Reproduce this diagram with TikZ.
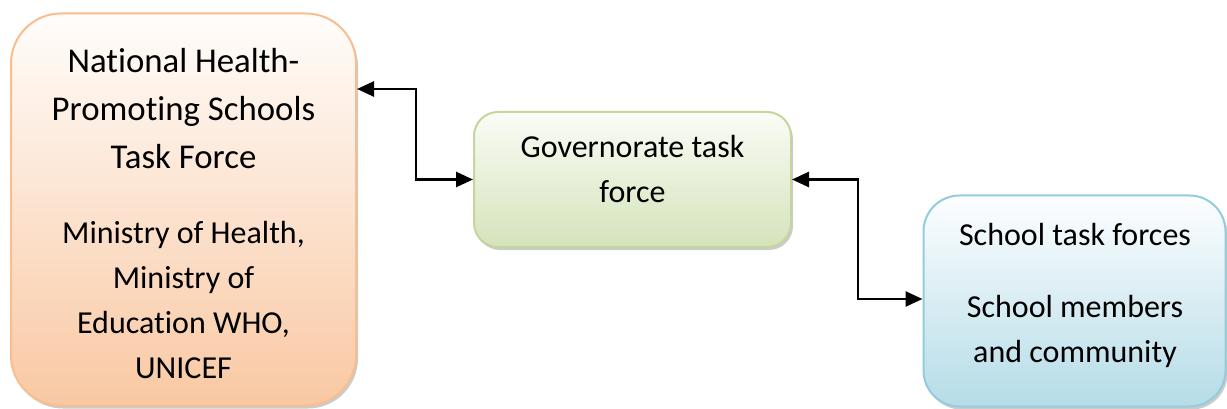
\documentclass[tikz,border=0pt]{standalone}
\usepackage{fontspec}
\setmainfont[Ligatures={NoCommon}]{Carlito}
\usetikzlibrary{arrows.meta,shadows}
\definecolor{orTop}{HTML}{FFFDFB}
\definecolor{orBot}{HTML}{F9C8A3}
\definecolor{orLine}{HTML}{F8BE90}
\definecolor{grTop}{HTML}{FAFCF6}
\definecolor{grBot}{HTML}{D5E3BB}
\definecolor{grLine}{HTML}{C3D69B}
\definecolor{blTop}{HTML}{FDFEFF}
\definecolor{blBot}{HTML}{B5DCE7}
\definecolor{blLine}{HTML}{93CDDD}
\tikzset{
  boxbase/.style={rectangle, line width=2pt, inner sep=0pt,
    drop shadow={shadow xshift=2pt, shadow yshift=-3pt, fill=black!45, opacity=0.45}},
  orbox/.style={boxbase, draw=orLine, top color=orTop, bottom color=orBot, rounded corners=50pt},
  grbox/.style={boxbase, draw=grLine, top color=grTop, bottom color=grBot, rounded corners=24pt},
  blbox/.style={boxbase, draw=blLine, top color=blTop, bottom color=blBot, rounded corners=36pt},
  txt/.style={anchor=base, inner sep=0pt, font=\fontsize{32}{40}\selectfont},
  bigtxt/.style={txt, font=\fontsize{34.8}{42}\selectfont},
  arr/.style={line width=2.7pt, {Triangle[length=17pt,width=15pt]}-{Triangle[length=17pt,width=15pt]}}
}
\begin{document}
\begin{tikzpicture}[x=1pt,y=-1pt]
\useasboundingbox (0,0) rectangle (1227,409);
\node[orbox, minimum width=345pt, minimum height=392pt] (left) at (183.5,209.5) {};
\node[grbox, minimum width=317pt, minimum height=135pt] (mid) at (632.5,179.5) {};
\node[blbox, minimum width=302pt, minimum height=211pt] (right) at (1074.5,301) {};

\node[bigtxt] (l1) at (183.5,73) {National Health-};
\node[bigtxt] (l2) at (183.5,121) {Promoting Schools};
\node[bigtxt] (l3) at (183.5,169) {Task Force};
\node[txt] (l4) at (183.5,243) {Ministry of Health,};
\node[txt] (l5) at (183.5,288) {Ministry of};
\node[txt] (l6) at (183.5,333) {Education WHO,};
\node[txt] (l7) at (183.5,378) {UNICEF};

\node[txt] (m1) at (632.5,158) {Governorate task};
\node[txt] (m2) at (632.5,203) {force};

\node[txt] (r1) at (1075,245) {School task forces};
\node[txt] (r2) at (1075,317) {School members};
\node[txt] (r3) at (1075,362) {and community};

\draw[arr] ([yshift=120.5pt]left.east) -- ++(59,0) |- (mid.west);
\draw[arr] (mid.east) -- ++(66,0) |- ([yshift=2pt]right.west);
\end{tikzpicture}
\end{document}
